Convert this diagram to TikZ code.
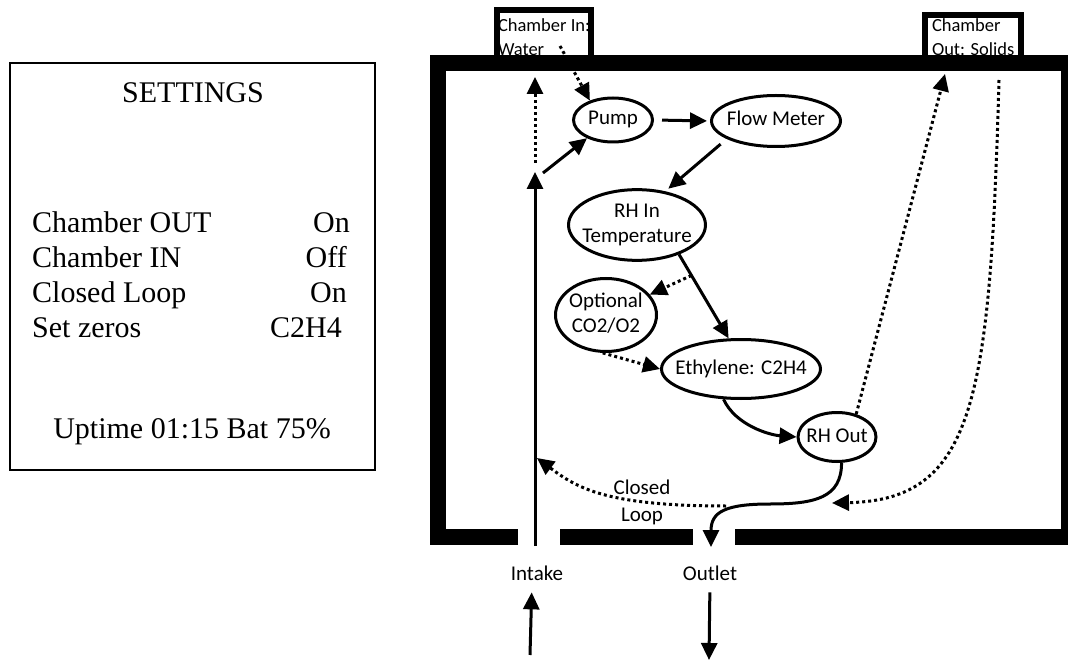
\documentclass[tikz,border=0pt]{standalone}
\usepackage{fontspec}
\setmainfont{Liberation Serif}
\newfontfamily\calibri{Carlito}
\usetikzlibrary{shapes,arrows.meta}
\newcommand{\bubbletext}[1]{\makebox[0pt]{\begin{tabular}{@{}c@{}}#1\end{tabular}}}
\tikzstyle{panel} = [rectangle, draw=black, line width=1.5pt, minimum width=365pt, minimum height=407pt]
\tikzstyle{setting} = [inner sep=0pt, font=\fontsize{30}{36}\selectfont]
\tikzstyle{bubble} = [ellipse, draw=black, line width=3pt, inner sep=0pt, font=\calibri\fontsize{21}{25}\selectfont]
\tikzstyle{port} = [rectangle, draw=black, line width=6pt, align=left, inner xsep=1pt, font=\calibri\fontsize{18.5}{24}\selectfont]
\tikzstyle{tag} = [inner sep=0pt, font=\calibri\fontsize{21}{27}\selectfont]
\tikzstyle{wall} = [line width=16pt]
\tikzstyle{arrow} = [line width=3pt, -{Triangle[length=17pt,width=16pt]}]
\tikzstyle{dotarrow} = [arrow, dash pattern=on 3pt off 3pt]

\begin{document}
\begin{tikzpicture}[x=1pt, y=-1pt]
\useasboundingbox (0,0) rectangle (1068,660);
% settings screen
\node (screen) [panel] at (192.5,266.5) {};
\node (title) [setting, anchor=base] at (193,103) {SETTINGS};
\node (outlbl) [setting, anchor=base west] at (32,233) {Chamber OUT};
\node (outval) [setting, anchor=base east] at (350,233) {On};
\node (inlbl) [setting, anchor=base west] at (32,268) {Chamber IN};
\node (inval) [setting, anchor=base east] at (347,268) {Off};
\node (looplbl) [setting, anchor=base west] at (32,302) {Closed Loop};
\node (loopval) [setting, anchor=base east] at (347,302) {On};
\node (zerolbl) [setting, anchor=base west] at (32,337) {Set zeros};
\node (zeroval) [setting, anchor=base east] at (342,337) {C2H4};
\node (status) [setting, anchor=base] at (192,438) {Uptime 01:15 Bat 75\%};

% chamber ports
\node (inbox) [port, anchor=north west, inner ysep=9pt] at (494,7) {Chamber In:\\Water};
\node (outbox) [port, anchor=north west, inner xsep=7pt, inner ysep=4pt] at (922,12) {Chamber\\Out: Solids};

% flow path
\node (pump) [bubble, minimum width=79pt, minimum height=44pt] at (613,120) {\bubbletext{Pump}};
\node (flow) [bubble, minimum width=129pt, minimum height=51pt] at (776,121) {\bubbletext{Flow Meter}};
\node (rhin) [bubble, minimum width=137pt, minimum height=67pt] at (637,225) {\bubbletext{RH In\\Temperature}};
\node (opt) [bubble, minimum width=101pt, minimum height=73pt] at (606,315) {\bubbletext{Optional\\CO2/O2}};
\node (eth) [bubble, minimum width=159pt, minimum height=59pt] at (741,369) {\bubbletext{Ethylene: C2H4}};
\node (rhout) [bubble, minimum width=78pt, minimum height=49pt] at (837,437) {\bubbletext{RH Out}};
\node (looptag) [tag, align=center] at (642,502) {Closed\\Loop};
\node (intake) [tag, anchor=base] at (537,580) {Intake};
\node (outlet) [tag, anchor=base] at (710,580) {Outlet};

\coordinate (intakein) at (535,546);
\coordinate (fork) at (535,172);
\coordinate (forkup) at (535,163);
\coordinate (forkr) at (543,173);
\coordinate (roof) at (535,77);
\coordinate (water) at (560,46);
\coordinate (outtop) at (945,74);
\coordinate (outret) at (999,80);
\coordinate (merge) at (832,503);
\coordinate (dip) at (770,504);
\coordinate (outgap) at (711,547);
\coordinate (loopsrc) at (726,506);
\coordinate (loopend) at (537,458);
\coordinate (srcin) at (530,655);
\coordinate (sink) at (709,660);

\draw [arrow] (intakein) -- (fork);
\draw [dotarrow] (forkup) -- (roof);
\draw [arrow] (forkr) -- (pump.215);
\draw [dotarrow] (water) -- (pump.140);
\draw [arrow, shorten <=8pt, shorten >=3pt] (pump.east) -- (flow.west);
\draw [arrow, shorten <=8pt, shorten >=4pt] (flow.200) -- (rhin.50);
\draw [arrow] (rhin.-35) -- coordinate[pos=0.25] (split) (eth.112);
\draw [dotarrow] (split) -- (opt.25);
\draw [dotarrow] (opt.-95) -- (eth.west);
\draw [arrow] (eth.-120) .. controls +(12,26) and +(-27,-2) .. (rhout.west);
\draw [line width=3pt] (rhout.-80) .. controls +(0,35) and +(45,0) .. (dip);
\draw [arrow] (dip) .. controls +(-45,0) and +(0,-35) .. (outgap);
\draw [dotarrow] (loopsrc) .. controls +(-120,0) and +(40,30) .. (loopend);
\draw [dotarrow] (rhout.50) -- (outtop);
\draw [dotarrow] (outret) .. controls (990,400) and (975,500) .. (merge);
\draw [arrow, shorten >=12pt] (srcin) -- ([xshift=-5pt]intake.south);
\draw [arrow, shorten <=12pt] (outlet.south) -- (sink);

% chamber walls
\draw [wall] (518,537) -- (438,537) -- (438,63) -- (1069,63) -- (1069,537) -- (735,537);
\draw [wall] (560,537) -- (693,537);
\end{tikzpicture}
\end{document}
